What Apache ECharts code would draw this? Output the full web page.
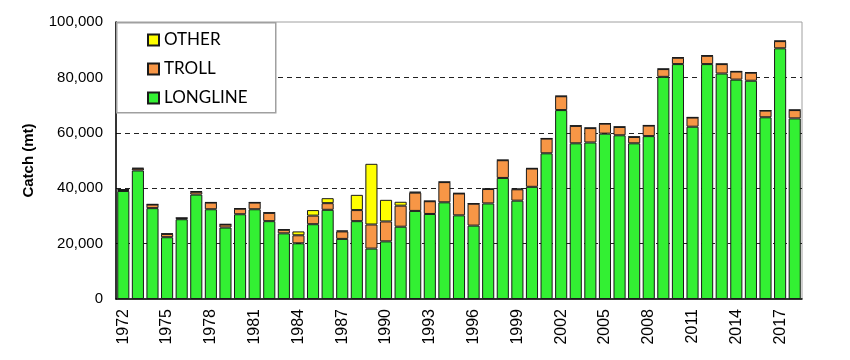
<!DOCTYPE html>
<html><head><meta charset="utf-8">
<script src="https://cdn.jsdelivr.net/npm/echarts@6/dist/echarts.min.js"></script>
<style>html,body{margin:0;padding:0;background:#fff}#c{width:850px;height:360px}</style>
</head><body><div id="c"></div>
<script>
const years = ['1972','1973','1974','1975','1976','1977','1978','1979','1980','1981','1982','1983','1984','1985','1986','1987','1988','1989','1990','1991','1992','1993','1994','1995','1996','1997','1998','1999','2000','2001','2002','2003','2004','2005','2006','2007','2008','2009','2010','2011','2012','2013','2014','2015','2016','2017','2018'];
const longline = [39000,46400,32800,22300,28800,37700,32400,25800,30600,32400,28100,23700,20100,27000,32200,21700,28100,18200,20800,26100,31800,30700,34900,30200,26500,34500,43700,35500,40500,52600,68200,56200,56500,59700,59100,56200,58800,80200,84800,62200,84800,81400,79200,78800,65600,90500,65200];
const troll = [400,700,1300,1200,400,1000,2400,1100,2000,2400,3000,1300,2900,3100,2400,2700,4000,8700,7200,7600,6600,4600,7300,7900,7900,5200,6400,4100,6600,5300,5000,6300,5200,3600,3000,2300,3800,2800,2300,3300,3000,3400,2900,2900,2400,2600,3000];
const other = [200,200,100,100,100,200,100,100,100,100,100,100,1400,2000,1800,300,5500,21900,7800,1400,300,100,100,100,100,100,100,200,100,100,100,100,100,100,100,100,100,100,100,100,100,100,100,100,100,100,100];
const yTicks = [0,20000,40000,60000,80000,100000];

const chart = echarts.init(document.getElementById('c'), null, {renderer:'canvas'});
const border = {borderColor:'#1a1a1a', borderWidth:1};
chart.setOption({
  animation:false,
  backgroundColor:'#fff',
  grid:{left:116, right:48, top:22, bottom:61, show:true, borderColor:'#a0a0a0', borderWidth:1, backgroundColor:'transparent'},
  graphic:[{type:'rect', left:116, top:22, z:50, shape:{width:159, height:90}, style:{fill:'#fff', stroke:'#a0a0a0', lineWidth:1.5}}],
  legend:{
    orient:'vertical', left:142, top:26, z:60,
    data:['OTHER','TROLL','LONGLINE'],
    itemWidth:11, itemHeight:11, itemGap:11,
    icon:'rect',
    textStyle:{fontFamily:'Lato', fontSize:17, color:'#000', lineHeight:18}
  },
  xAxis:{
    type:'category', data:years,
    axisLine:{lineStyle:{color:'#000', width:1.5}},
    axisTick:{show:false},
    axisLabel:{interval:2, rotate:90, fontFamily:'Liberation Sans', fontSize:16, color:'#000', margin:10}
  },
  yAxis:{
    type:'value', min:yTicks[0], max:yTicks[yTicks.length-1], interval:20000,
    name:'Catch (mt)', nameLocation:'middle', nameGap:80,
    nameTextStyle:{fontFamily:'Liberation Sans', fontSize:15, fontWeight:'bold', color:'#000'},
    axisLine:{show:true, lineStyle:{color:'#000', width:1.5}},
    axisTick:{show:false},
    axisLabel:{fontFamily:'Liberation Sans', fontSize:15, color:'#000', margin:13,
      formatter:v=>v.toLocaleString('en-US')},
    splitLine:{show:true, showMinLine:false, showMaxLine:false, lineStyle:{color:'#222', type:[5,4], width:1}}
  },
  series:[
    {name:'LONGLINE', type:'bar', stack:'a', data:longline, barCategoryGap:'17%', itemStyle:Object.assign({color:'#33f033'},border)},
    {name:'TROLL', type:'bar', stack:'a', data:troll, itemStyle:Object.assign({color:'#f79646'},border)},
    {name:'OTHER', type:'bar', stack:'a', data:other, itemStyle:Object.assign({color:'#ffff00'},border)}
  ]
});
</script></body></html>
